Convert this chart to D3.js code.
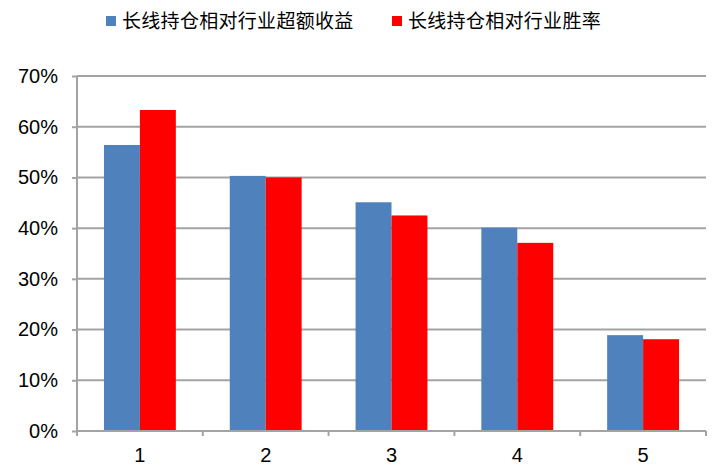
<!DOCTYPE html>
<html>
<head>
<meta charset="utf-8">
<script src="https://cdn.jsdelivr.net/npm/d3@7"></script>
<style>
  body { margin: 0; background: #fff; }
  svg { display: block; }
</style>
</head>
<body>
<div id="chart"></div>
<script>
// chart data
const categories = ["1", "2", "3", "4", "5"];
const seriesNames = ["长线持仓相对行业超额收益", "长线持仓相对行业胜率"];
const excessReturn = [0.564, 0.503, 0.451, 0.401, 0.189];
const winRate = [0.633, 0.500, 0.425, 0.371, 0.181];
const yTicks = [0, 0.1, 0.2, 0.3, 0.4, 0.5, 0.6, 0.7];

const colors = ["#4f81bd", "#ff0000"];
const width = 717, height = 474;
const margin = {top: 76, right: 11, bottom: 43, left: 77};

const svg = d3.select("#chart").append("svg")
    .attr("width", width)
    .attr("height", height);

const g = svg.append("g").attr("transform", `translate(${margin.left}, ${margin.top})`);
const innerW = width - margin.left - margin.right;
const innerH = height - margin.top - margin.bottom;

let x0 = d3.scaleBand().domain(categories).range([0, innerW]).padding(0);
let x1 = d3.scaleBand().domain(seriesNames).range([0, x0.bandwidth()])
    .paddingInner(0).paddingOuter(0.75);
let y = d3.scaleLinear().domain([0, 0.7]).range([innerH, 0]);

const gridColor = "#a3a3a3";
const gridWidth = 2;

// gridlines + y axis
let yAxis = g.append("g")
    .call(d3.axisLeft(y).tickValues(yTicks).tickFormat(d3.format(".0%")).tickSize(5).tickPadding(14));
yAxis.select(".domain").attr("stroke", gridColor).attr("stroke-width", gridWidth).attr("d", `M0,0V${innerH}`);
yAxis.selectAll(".tick line").attr("stroke", gridColor).attr("stroke-width", gridWidth);
yAxis.selectAll(".tick text")
    .attr("font-family", "Liberation Sans, Arial, sans-serif")
    .attr("font-size", "20px")
    .attr("fill", "#000");

g.append("g").selectAll("line").data(yTicks.filter(d => d > 0)).join("line")
    .attr("x1", 0).attr("x2", innerW)
    .attr("y1", d => y(d)).attr("y2", d => y(d))
    .attr("stroke", gridColor).attr("stroke-width", gridWidth);

// bars
let rows = categories.map((c, i) => ({cat: c, values: [excessReturn[i], winRate[i]]}));
g.append("g").selectAll("g").data(rows).join("g")
    .attr("transform", d => `translate(${x0(d.cat)}, 0)`)
    .selectAll("rect").data(d => d.values.map((v, k) => ({name: seriesNames[k], v: v, k: k})))
    .join("rect")
    .attr("x", d => x1(d.name))
    .attr("y", d => y(d.v))
    .attr("width", x1.bandwidth())
    .attr("height", d => innerH - y(d.v))
    .attr("fill", d => colors[d.k]);

// x axis: baseline, boundary ticks, labels
let xAxis = g.append("g").attr("transform", `translate(0, ${innerH})`);
xAxis.append("line").attr("x1", 0).attr("x2", innerW)
    .attr("stroke", gridColor).attr("stroke-width", gridWidth);
let bounds = categories.map(c => x0(c)).concat([x0.range()[1]]);
xAxis.selectAll(".bt").data(bounds).join("line")
    .attr("class", "bt")
    .attr("x1", d => d).attr("x2", d => d)
    .attr("y1", 0).attr("y2", 5)
    .attr("stroke", gridColor).attr("stroke-width", gridWidth);
xAxis.selectAll(".lbl").data(categories).join("text")
    .attr("class", "lbl")
    .attr("x", d => x0(d) + x0.bandwidth() / 2)
    .attr("y", 24)
    .attr("dy", "0.35em")
    .attr("text-anchor", "middle")
    .attr("font-family", "Liberation Sans, Arial, sans-serif")
    .attr("font-size", "20px")
    .text(d => d);

// legend
const legendX = [106, 392];
let legend = svg.append("g").selectAll("g").data(seriesNames).join("g")
    .attr("transform", (d, i) => `translate(${legendX[i]}, 21)`);
legend.append("rect")
    .attr("x", 0).attr("y", -5)
    .attr("width", 10).attr("height", 10)
    .attr("fill", (d, i) => colors[i]);
legend.append("text")
    .attr("x", 16)
    .attr("dy", "0.36em")
    .attr("font-family", "Noto Sans CJK SC, sans-serif")
    .attr("font-size", "19px")
    .attr("letter-spacing", "0.3px")
    .attr("fill", "#000")
    .text(d => d);
</script>
</body>
</html>
